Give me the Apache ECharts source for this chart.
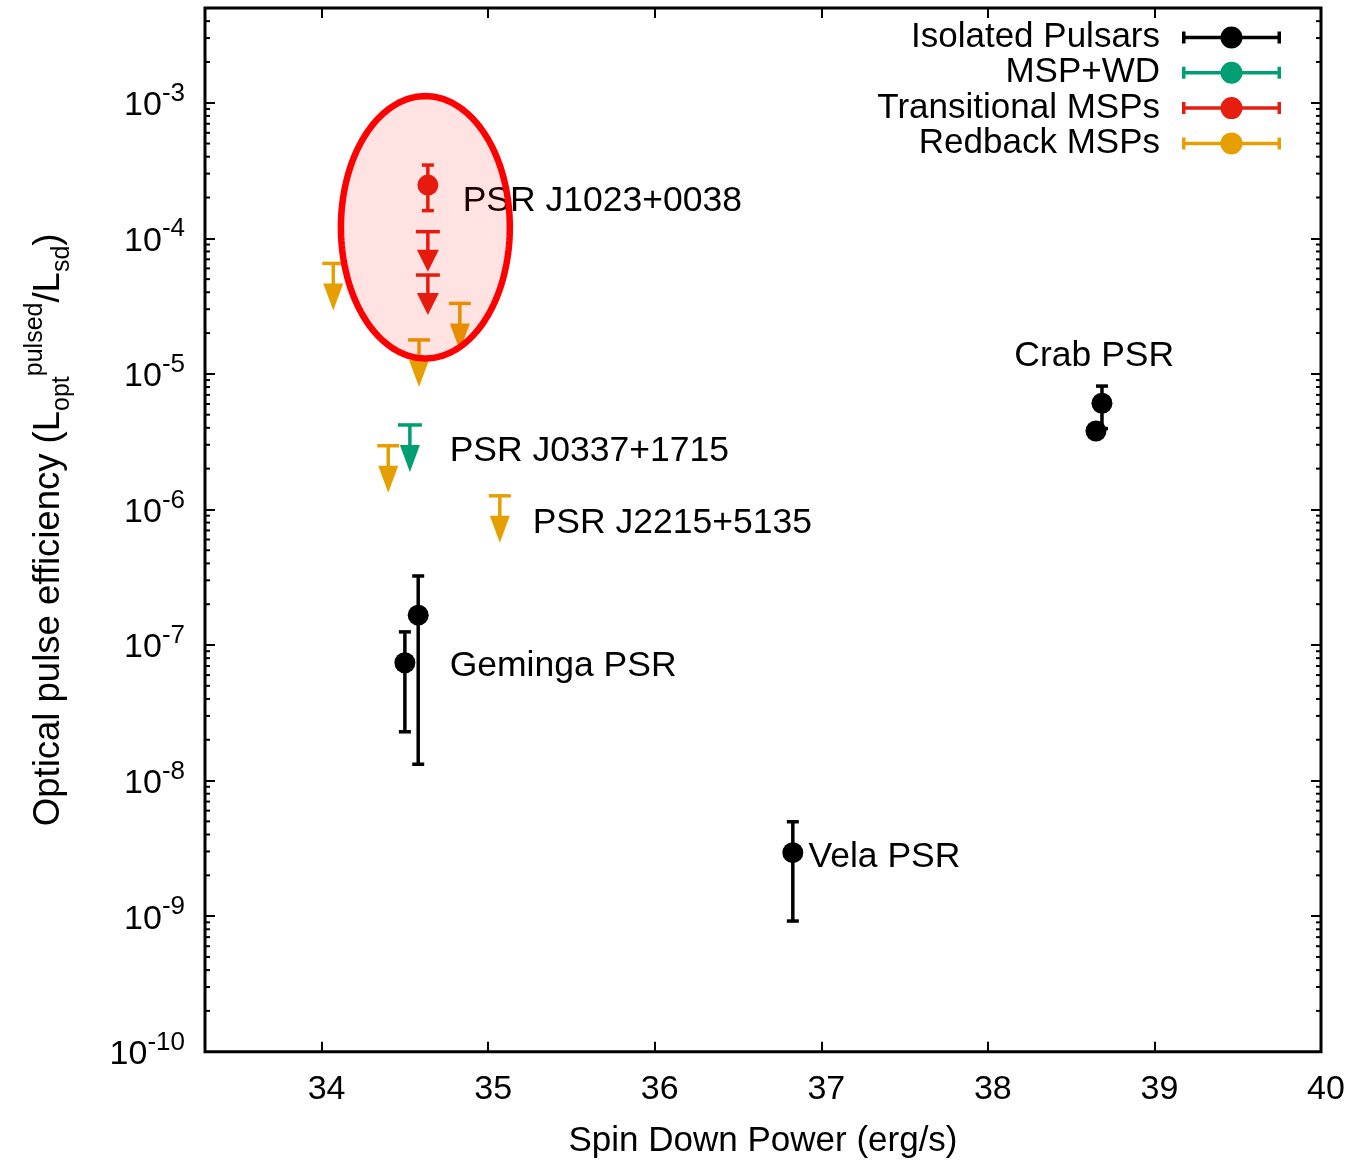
<!DOCTYPE html>
<html>
<head>
<meta charset="utf-8">
<script src="https://cdn.jsdelivr.net/npm/echarts@6/dist/echarts.min.js"></script>
<style>html,body{margin:0;padding:0;background:#fff}#chart{width:1370px;height:1160px}</style>
</head>
<body>
<div id="chart"></div>
<script>
const FONT = '"Liberation Sans", Arial, Helvetica, sans-serif';

// ---- Data ----
const seriesNames = ['Isolated Pulsars', 'MSP+WD', 'Transitional MSPs', 'Redback MSPs'];
const seriesColors = ['#000000', '#009e73', '#e51e10', '#e69f00'];

// Isolated pulsars: detections with error bars
const isolatedX    = [34.50, 34.58, 38.685, 38.649, 36.829];
const isolatedY    = [7.40e-8, 1.66e-7, 6.07e-6, 3.79e-6, 2.94e-9];
const isolatedLow  = [2.29e-8, 1.32e-8, 3.95e-6, 3.79e-6, 9.20e-10];
const isolatedHigh = [1.25e-7, 3.23e-7, 8.13e-6, 3.79e-6, 4.97e-9];

// MSP+WD: upper limits
const mspwdLimitX = [34.53];
const mspwdLimitY = [4.20e-6];

// Transitional MSPs: one detection + upper limits
const transX    = [34.638];
const transY    = [2.47e-4];
const transLow  = [1.60e-4];
const transHigh = [3.47e-4];
const transLimitX = [34.638, 34.638];
const transLimitY = [1.12e-4, 5.36e-5];

// Redback MSPs: upper limits
const redbackLimitX = [34.07, 34.83, 34.585, 34.40, 35.07];
const redbackLimitY = [6.53e-5, 3.31e-5, 1.78e-5, 2.95e-6, 1.26e-6];

// Text annotations
const annotationText = ['PSR J1023+0038', 'PSR J0337+1715', 'PSR J2215+5135', 'Geminga PSR', 'Vela PSR', 'Crab PSR'];
const annotationX = [34.847, 34.769, 35.267, 34.769, 36.923, 38.159];
const annotationY = [1.95e-4, 2.79e-6, 8.22e-7, 7.24e-8, 2.82e-9, 1.40e-5];

// Highlight ellipse extents (data space)
const highlightX = [34.116, 35.130];
const highlightY = [1.30e-5, 1.12e-3];

// Axis ranges
const xRange = [33.3, 40];
const yRange = [1e-10, 5.0e-3];

// ---- Helpers ----
const lg = v => Math.log10(v);
const yMinL = lg(yRange[0]);
const yMaxL = lg(yRange[1]);

function errorBarRender(color) {
  return function (params, api) {
    const x = api.value(0);
    const p = api.coord([x, api.value(1)]);
    const pl = api.coord([x, api.value(2)]);
    const ph = api.coord([x, api.value(3)]);
    const cw = 6;
    const st = { stroke: color, lineWidth: 3.5, fill: null };
    const children = [];
    if (Math.abs(pl[1] - ph[1]) > 0.5) {
      children.push({ type: 'line', shape: { x1: p[0], y1: ph[1], x2: p[0], y2: pl[1] }, style: st });
      children.push({ type: 'line', shape: { x1: p[0] - cw, y1: ph[1], x2: p[0] + cw, y2: ph[1] }, style: st });
      children.push({ type: 'line', shape: { x1: p[0] - cw, y1: pl[1], x2: p[0] + cw, y2: pl[1] }, style: st });
    }
    children.push({ type: 'circle', shape: { cx: p[0], cy: p[1], r: 10.5 }, style: { fill: color } });
    return { type: 'group', children };
  };
}

function upperLimitRender(color, capW, stem, headH, headW) {
  return function (params, api) {
    const p = api.coord([api.value(0), api.value(1)]);
    const st = { stroke: color, lineWidth: 3.5, fill: null };
    return {
      type: 'group',
      children: [
        { type: 'line', shape: { x1: p[0] - capW / 2, y1: p[1], x2: p[0] + capW / 2, y2: p[1] }, style: st },
        { type: 'line', shape: { x1: p[0], y1: p[1], x2: p[0], y2: p[1] + stem + 1 }, style: st },
        { type: 'polygon', shape: { points: [[p[0] - headW / 2, p[1] + stem], [p[0] + headW / 2, p[1] + stem], [p[0], p[1] + stem + headH]] }, style: { fill: color } }
      ]
    };
  };
}

const detData = (xs, ys, lo, hi) => xs.map((x, i) => [x, lg(ys[i]), lg(lo[i]), lg(hi[i])]);
const limData = (xs, ys) => xs.map((x, i) => [x, lg(ys[i])]);

// legend icon: error bar with caps and a filled circle (99 x 22 box)
const legendIcon = 'path://M0,5H3.5V17H0Z M3.5,9.25H38.7V12.75H3.5Z M60.3,9.25H95.5V12.75H60.3Z M95.5,5H99V17H95.5Z M38.5,11A11,11 0 1 1 60.5,11A11,11 0 1 1 38.5,11Z';

// minor ticks for the logarithmic y axis
const minorTickRender = function (params, api) {
  const children = [];
  const st = { stroke: '#000', lineWidth: 2 };
  for (let d = Math.floor(yMinL); d < Math.ceil(yMaxL); d++) {
    for (let k = 2; k <= 9; k++) {
      const v = d + Math.log10(k);
      if (v <= yMinL || v >= yMaxL) continue;
      const l = api.coord([xRange[0], v]);
      const r = api.coord([xRange[1], v]);
      children.push({ type: 'line', shape: { x1: l[0], y1: l[1], x2: l[0] + 5, y2: l[1] }, style: st });
      children.push({ type: 'line', shape: { x1: r[0], y1: r[1], x2: r[0] - 5, y2: r[1] }, style: st });
    }
  }
  return { type: 'group', children };
};

const yLabelFmt = v => {
  if (Math.abs(v - Math.round(v)) > 1e-6) return '';
  return '{b|10}{s|' + Math.round(v) + '}';
};
const xLabelFmt = v => (Math.abs(v - Math.round(v)) > 1e-6 ? '' : String(Math.round(v)));

const tickStyle = { show: true, inside: true, length: 10, lineStyle: { color: '#000', width: 2 } };

const chart = echarts.init(document.getElementById('chart'));
chart.setOption({
  animation: false,
  backgroundColor: '#fff',
  textStyle: { fontFamily: FONT },
  grid: {
    left: 205, right: 49, top: 8, bottom: 108.3, containLabel: false, outerBoundsMode: 'none',
    show: true, borderColor: '#000', borderWidth: 3, backgroundColor: 'transparent'
  },
  xAxis: [
    {
      type: 'value', min: xRange[0], max: xRange[1], splitNumber: 7, position: 'bottom',
      name: 'Spin Down Power (erg/s)', nameLocation: 'middle', nameGap: 72,
      nameTextStyle: { fontSize: 35, color: '#000', fontFamily: FONT, lineHeight: 36 },
      axisLine: { show: false }, axisTick: tickStyle, splitLine: { show: false },
      axisLabel: { formatter: xLabelFmt, fontSize: 34, color: '#000', margin: 21, fontFamily: FONT, padding: [0, 0, 0, 10], showMinLabel: false }
    },
    {
      type: 'value', min: xRange[0], max: xRange[1], splitNumber: 7, position: 'top',
      axisLine: { show: false }, axisTick: tickStyle, splitLine: { show: false }, axisLabel: { show: false }
    }
  ],
  yAxis: [
    {
      type: 'value', min: yMinL, max: yMaxL, interval: 1, position: 'left',
      name: '{t|Optical pulse efficiency (L}{sub|opt}{sup|pulsed}{t|/L}{sub|sd}{t|)}',
      nameLocation: 'middle', nameGap: 130, nameRotate: 90,
      nameTextStyle: {
        color: '#000',
        rich: {
          t: { fontSize: 36.5, lineHeight: 52, fontFamily: FONT, color: '#000' },
          sub: { fontSize: 25, lineHeight: 25, verticalAlign: 'bottom', fontFamily: FONT, color: '#000' },
          sup: { fontSize: 25, lineHeight: 25, verticalAlign: 'top', fontFamily: FONT, color: '#000' }
        }
      },
      axisLine: { show: false }, axisTick: tickStyle, splitLine: { show: false },
      axisLabel: {
        formatter: yLabelFmt, margin: 20, color: '#000', padding: [6, 0, 0, 0],
        rich: {
          b: { fontSize: 34, lineHeight: 50, fontFamily: FONT, color: '#000' },
          s: { fontSize: 26, lineHeight: 26, verticalAlign: 'top', fontFamily: FONT, color: '#000' }
        }
      }
    },
    {
      type: 'value', min: yMinL, max: yMaxL, interval: 1, position: 'right',
      axisLine: { show: false }, axisTick: tickStyle, splitLine: { show: false }, axisLabel: { show: false }
    }
  ],
  legend: {
    orient: 'vertical', right: 84, top: 15, align: 'right',
    itemWidth: 99, itemHeight: 22, itemGap: 0.3, selectedMode: false,
    textStyle: { fontSize: 35, lineHeight: 35, color: '#000', fontFamily: FONT, padding: [0, 17, 0, 0] },
    data: seriesNames.map(n => ({ name: n, icon: legendIcon }))
  },
  series: [
    {
      type: 'custom', name: 'minor ticks', silent: true, z: 1, clip: false,
      data: [[xRange[0], yMinL]], renderItem: minorTickRender
    },
    {
      type: 'custom', name: seriesNames[0], itemStyle: { color: seriesColors[0] }, z: 2,
      encode: { x: 0, y: 1 }, data: detData(isolatedX, isolatedY, isolatedLow, isolatedHigh),
      renderItem: errorBarRender(seriesColors[0])
    },
    {
      type: 'custom', name: seriesNames[1], itemStyle: { color: seriesColors[1] }, z: 2,
      encode: { x: 0, y: 1 }, data: limData(mspwdLimitX, mspwdLimitY),
      renderItem: upperLimitRender(seriesColors[1], 24, 20, 27, 20)
    },
    {
      type: 'custom', name: seriesNames[2], itemStyle: { color: seriesColors[2] }, z: 2,
      encode: { x: 0, y: 1 }, data: detData(transX, transY, transLow, transHigh),
      renderItem: errorBarRender(seriesColors[2])
    },
    {
      type: 'custom', name: seriesNames[2], itemStyle: { color: seriesColors[2] }, z: 2,
      encode: { x: 0, y: 1 }, data: limData(transLimitX, transLimitY),
      renderItem: upperLimitRender(seriesColors[2], 24, 18, 22, 22)
    },
    {
      type: 'custom', name: seriesNames[3], itemStyle: { color: seriesColors[3] }, z: 2,
      encode: { x: 0, y: 1 }, data: limData(redbackLimitX, redbackLimitY),
      renderItem: upperLimitRender(seriesColors[3], 22, 20, 27, 20)
    },
    {
      type: 'custom', name: 'annotations', silent: true, z: 3, clip: false,
      encode: { x: 0, y: 1 },
      data: annotationX.map((x, i) => [x, lg(annotationY[i]), i]),
      renderItem: function (params, api) {
        const p = api.coord([api.value(0), api.value(1)]);
        return {
          type: 'text', x: p[0], y: p[1] + 2,
          style: { text: annotationText[api.value(2)], fill: '#000', fontSize: 35.5, fontFamily: FONT, align: 'left', verticalAlign: 'middle' }
        };
      }
    },
    {
      type: 'custom', name: 'highlight', silent: true, z: 5, clip: false,
      encode: { x: 0, y: 1 },
      data: [[(highlightX[0] + highlightX[1]) / 2, (lg(highlightY[0]) + lg(highlightY[1])) / 2]],
      renderItem: function (params, api) {
        const a = api.coord([highlightX[0], lg(highlightY[0])]);
        const b = api.coord([highlightX[1], lg(highlightY[1])]);
        const cx = (a[0] + b[0]) / 2, cy = (a[1] + b[1]) / 2;
        const rx = Math.abs(b[0] - a[0]) / 2, ry = Math.abs(b[1] - a[1]) / 2;
        const pts = [];
        for (let i = 0; i < 180; i++) {
          const t = (i / 180) * Math.PI * 2;
          pts.push([cx + rx * Math.cos(t), cy + ry * Math.sin(t)]);
        }
        return {
          type: 'polygon', shape: { points: pts },
          style: { fill: 'rgba(255,0,0,0.11)', stroke: '#ff0000', lineWidth: 6.5 }
        };
      }
    }
  ]
});
</script>
</body>
</html>
